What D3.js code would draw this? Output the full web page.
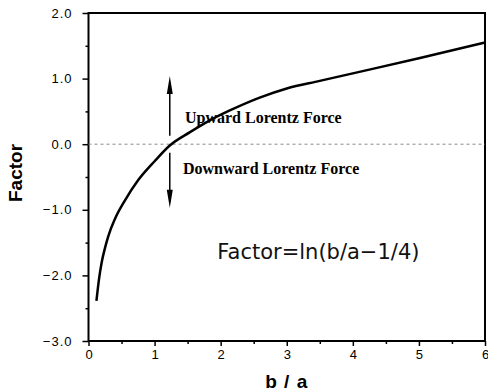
<!DOCTYPE html>
<html>
<head>
<meta charset="utf-8">
<script src="https://cdn.jsdelivr.net/npm/d3@7"></script>
<style>
  body { margin: 0; background: #fff; }
  .tick text { font-family: "Liberation Sans", Arial, sans-serif; }
</style>
</head>
<body>
<div id="chart"></div>
<script>
var svgWidth = 488;
var svgHeight = 392;

var margin = { top: 13, right: 3, bottom: 51, left: 88.5 };
var width = svgWidth - margin.left - margin.right;
var height = svgHeight - margin.top - margin.bottom;

// curve
var ratio  = [0.12, 0.16, 0.2, 0.25, 0.3, 0.4, 0.55, 0.75, 1.0, 1.23, 1.53, 1.83, 2.13, 2.59, 3.0, 3.5, 4.0, 5.0, 6.0];
var factor = [-2.39, -2.05, -1.8, -1.58, -1.4, -1.14, -0.86, -0.55, -0.26, -0.02, 0.18, 0.36, 0.51, 0.71, 0.85, 0.965, 1.08, 1.31, 1.55];

var xTicks = [0, 1, 2, 3, 4, 5, 6];
var yTicks = [-3, -2, -1, 0, 1, 2];
var yLabels = ["\u22123.0", "\u22122.0", "\u22121.0", "0.0", "1.0", "2.0"];

// double arrow marking force direction: [from, tip]
var arrowX = 1.23;
var arrowUp = [0.13, 1.04];
var arrowDown = [-0.13, -0.97];

var svg = d3.select("#chart")
  .append("svg")
  .attr("width", svgWidth)
  .attr("height", svgHeight);

var chartGroup = svg.append("g")
  .attr("transform", `translate(${margin.left}, ${margin.top})`);

var x = d3.scaleLinear().domain([0, 6]).range([0, width]);
var y = d3.scaleLinear().domain([-3, 2]).range([height, 0]);

// minor ticks
var bottomMinor = d3.axisBottom(x).tickValues(d3.range(0.5, 6, 1)).tickSize(3).tickFormat("");
var leftMinor = d3.axisLeft(y).tickValues(d3.range(-2.5, 2, 1)).tickSize(3).tickFormat("");

chartGroup.append("g").attr("transform", `translate(0, ${height})`).call(bottomMinor);
chartGroup.append("g").call(leftMinor);

var bottomAxis = d3.axisBottom(x).tickValues(xTicks).tickSize(5).tickPadding(4)
  .tickFormat(d3.format("d"));
var leftAxis = d3.axisLeft(y).tickValues(yTicks).tickSize(6).tickPadding(10)
  .tickFormat(function(d, i) { return yLabels[i]; });

chartGroup.append("g").attr("transform", `translate(0, ${height})`).call(bottomAxis)
  .selectAll("text").attr("font-size", 13);
chartGroup.append("g").call(leftAxis)
  .selectAll("text").attr("font-size", 13).attr("letter-spacing", "1px");

chartGroup.selectAll(".domain").remove();
chartGroup.selectAll(".tick line").attr("stroke", "#000").attr("stroke-width", 1.5);

// frame
chartGroup.append("rect")
  .attr("width", width).attr("height", height)
  .attr("fill", "none").attr("stroke", "#000").attr("stroke-width", 2);

// zero line
chartGroup.append("line")
  .attr("x1", 0).attr("x2", width)
  .attr("y1", y(0)).attr("y2", y(0))
  .attr("stroke", "#888").attr("stroke-width", 1)
  .attr("stroke-dasharray", "3,3");

// curve
var line = d3.line()
  .x(function(d, i) { return x(ratio[i]); })
  .y(function(d) { return y(d); })
  .curve(d3.curveMonotoneX);

chartGroup.append("path")
  .attr("d", line(factor))
  .attr("fill", "none")
  .attr("stroke", "#000")
  .attr("stroke-width", 2.5);

// arrows
[arrowUp, arrowDown].forEach(function(a) {
  var ax = x(arrowX), tip = y(a[1]);
  var dir = a[1] > 0 ? 1 : -1;
  chartGroup.append("line")
    .attr("x1", ax).attr("x2", ax)
    .attr("y1", y(a[0])).attr("y2", tip + dir * 6)
    .attr("stroke", "#000").attr("stroke-width", 1.5);
  chartGroup.append("path")
    .attr("d", `M${ax},${tip} L${ax + 3},${tip + dir * 18} L${ax - 3},${tip + dir * 18} Z`)
    .attr("fill", "#000");
});

// annotations
chartGroup.append("text")
  .attr("x", x(1.46)).attr("y", y(0.33))
  .attr("font-family", "Liberation Serif, Times New Roman, serif")
  .attr("font-weight", "bold").attr("font-size", 16)
  .text("Upward Lorentz Force");

chartGroup.append("text")
  .attr("x", x(1.43)).attr("y", y(-0.46))
  .attr("font-family", "Liberation Serif, Times New Roman, serif")
  .attr("font-weight", "bold").attr("font-size", 16)
  .text("Downward Lorentz Force");

chartGroup.append("text")
  .attr("x", x(1.95)).attr("y", y(-1.75))
  .attr("font-family", "DejaVu Sans, sans-serif")
  .attr("font-size", 21).attr("fill", "#111")
  .text("Factor=ln(b/a\u22121/4)");

// axis labels
chartGroup.append("text")
  .attr("transform", "rotate(-90)")
  .attr("x", -(y(0) + y(-1)) / 2 + 4)
  .attr("y", -67)
  .attr("text-anchor", "middle")
  .attr("font-family", "Liberation Sans, Arial, sans-serif")
  .attr("font-weight", "bold").attr("font-size", 19)
  .text("Factor");

chartGroup.append("text")
  .attr("x", width / 2)
  .attr("y", height + 47)
  .attr("text-anchor", "middle")
  .attr("font-family", "Liberation Sans, Arial, sans-serif")
  .attr("font-weight", "bold").attr("font-size", 19)
  .attr("letter-spacing", "1px")
  .text("b / a");
</script>
</body>
</html>
